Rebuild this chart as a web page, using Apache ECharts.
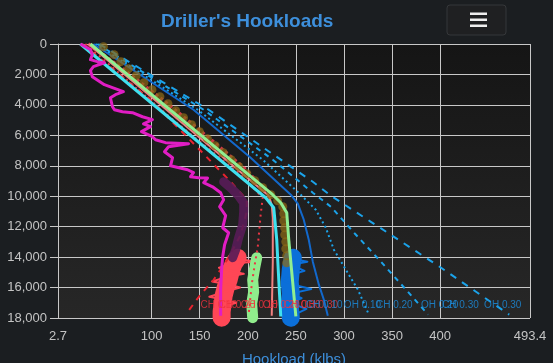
<!DOCTYPE html>
<html><head><meta charset="utf-8">
<script src="https://cdn.jsdelivr.net/npm/echarts@6/dist/echarts.min.js"></script>
<style>html,body{margin:0;padding:0;background:#1b1e21;overflow:hidden;}#c{width:553px;height:380px;}</style>
</head><body><div id="c"></div>
<script>
// ---- axis ticks ----
const xTicks = [2.7, 100, 150, 200, 250, 300, 350, 400, 493.4];
const depthMin = 0, depthMax = 18000, depthStep = 2000;

// ---- series: [hookload klbs, depth ft] ----
const hookloadActual = [[26,0],[36.4,370],[38.4,700],[36.4,1030],[43.6,1160],[50.9,1230],[39.5,1490],[36.4,1750],[38.4,2150],[44.7,2410],[50.9,2670],[59.3,2870],[70.7,3130],[62.4,3330],[57.2,3530],[59.3,4120],[61.4,4320],[69.7,4450],[80.1,4510],[90.5,4780],[100.9,4970],[91.6,5240],[98.9,5430],[89.5,5760],[100.9,6090],[104.1,6290],[114.5,6480],[138.4,6550],[117.6,6750],[113.4,7080],[121.8,7470],[119.7,8000],[137.4,8260],[143.6,8450],[140.5,8720],[148.9,8780],[158.2,8800],[154.1,9110],[163.4,9380],[171.8,9770],[174.9,10230],[170.7,10690],[177,11280],[173.9,12070],[180.1,12400],[175.9,13190],[173.9,13970],[172.8,14830],[171.8,16140],[171.8,17850]];
const slidingSO = [[174.9,9050],[182.2,9440],[189.5,9900],[195.7,10430],[195.7,11020],[194.7,11870],[190.5,12730],[187.4,13510],[184.3,14040]];
const rotatingPts = [[49.9,180],[61,700],[68,1160],[76,1620],[84,2080],[92,2540],[100.4,3000],[108.6,3460],[117,3920],[125,4380],[133.2,4840],[141.5,5300],[149.7,5760],[158,6220],[166,6680],[174.4,7140],[182.6,7600],[190.8,8060],[199,8520],[207.3,8980],[215.5,9440],[223.9,9900],[231.1,10300],[236.4,10690],[237.4,11150],[237.4,11610],[238.4,12070],[238.4,12530],[239.5,12990],[239.5,13450],[240.5,13910],[240.5,14370]];
const freeRotating = [[25.9,0],[218.6,10100],[227,10760],[230.1,12860],[232.2,15490],[234.3,17900]];
const rotModel = [[36.4,0],[225.9,9900],[234.3,10430],[240.5,11080],[242.6,12860],[244.7,14300],[250,17900]];
const soModelSolid = [[34.3,0],[221.8,9970],[224.9,10560],[226,11420],[226,14300],[224.9,17850]];
const puModelSolid = [[39.5,0],[143.6,4320],[203,7470],[244.7,9900],[252,10490],[258.2,11540],[263.4,12860],[267.6,14300],[273.9,15810],[279.1,16800],[283.2,17850]];
const puOH10 = [[41.6,0],[147.8,4320],[215.5,7600],[255.1,9900],[270.7,10890],[281.1,12070],[289.5,13510],[302,14830],[314.5,16140],[325.9,17780]];
const puOH20 = [[43.6,0],[154.1,4320],[226,7600],[267.6,9770],[286.4,10690],[312.4,12530],[338.4,14300],[364.5,16140],[387.4,17780]];
const puOH30 = [[45.7,0],[159.3,4320],[234.3,7600],[267.6,9050],[286.4,9970],[328,11680],[401,14700],[471.8,17780]];
const soOH30 = [[28,0],[98.9,3660],[147.8,6810],[182.2,9050],[198.9,10230],[198.9,11020],[192.6,12530],[180.1,14040],[164.5,15490],[150.9,16470],[135.3,17780]];
const soOH20 = [[31.1,0],[119.7,4840],[192.6,8590],[215.5,10100],[213.4,11210],[210.3,13380],[207.2,14500],[204.1,15810],[200.9,17780]];
const soMeasuredTop = [[34.3,0],[78,2040],[117.6,4000],[161.4,6290],[197.8,8260],[218.6,9700]];
const soMeasured = [[189.5,14040],[185.3,14430],[182.2,14960],[180.1,15490],[177,16010],[174.9,16540],[173.9,17060],[172.8,17590],[172.8,17980]];
const soSpikes = [[189,14100],[208,14300],[186,14400],[170,14700],[183,14900],[196,15100],[178,15300],[163,15600],[180,15800],[192,16000],[175,16300],[160,16600],[176,16800],[188,17000],[172,17300],[165,17600],[174,17900]];
const rotMeasured = [[209.3,14040],[207.2,14700],[205.1,15490],[206.1,16280],[204.1,17060],[205.1,17980]];
const puMeasured = [[246.8,14040],[244.7,14830],[243.6,15620],[244.7,16410],[243.6,17190],[244.7,17980]];
const puSpikes = [[246,14100],[262,14300],[245,14500],[259,14900],[244,15200],[236,15500],[246,15800],[266,16100],[245,16400],[256,16700],[243,17000],[261,17400],[245,17900]];

// ---- friction-factor labels ----
const labelDepth = 17130;
const soLabelNames = ['CH 0.10','CH 0.20','OH 0.10','OH 0.20','CH 0.30','OH 0.30'];
const soLabelLoads = [150.9,169.7,192.6,215.5,237.4,255.1];
const puLabelNames = ['CH 0.10','OH 0.10','CH 0.20','OH 0.20','CH 0.30','OH 0.30'];
const puLabelLoads = [260.3,299.9,333.2,380.1,402,445.7];

const FONT = 'Liberation Sans, Arial, sans-serif';
const GRID = '#c8c8c8';

function line(name, data, color, width, type, z, cap) {
  return {
    name, type: 'line', data, z, showSymbol: false, symbol: 'none', silent: true,
    lineStyle: { color, width, type: type || 'solid', cap: cap || 'butt', join: 'round' }
  };
}
function labels(names, loads, color) {
  return {
    type: 'scatter', z: 20, symbolSize: 0, silent: true,
    data: names.map((n, i) => ({ value: [loads[i], labelDepth], name: n })),
    label: { show: true, position: 'right', distance: 0, formatter: p => p.name,
      color, fontSize: 10, fontFamily: FONT }
  };
}

const chart = echarts.init(document.getElementById('c'), null, { renderer: 'canvas' });
chart.setOption({
  animation: false,
  backgroundColor: '#1b1e21',
  title: {
    text: "Driller's Hookloads", left: 161, top: 12, padding: 0,
    textStyle: { color: '#3d8fdb', fontSize: 19, fontWeight: 'bold', fontFamily: FONT }
  },
  graphic: [
    { type: 'rect', shape: { x: 447, y: 5, width: 59, height: 30, r: 3 },
      style: { fill: '#1f2022', stroke: '#35373a', lineWidth: 1 } },
    { type: 'rect', shape: { x: 470, y: 12.5, width: 17, height: 2.5 }, style: { fill: '#eeeeee' } },
    { type: 'rect', shape: { x: 470, y: 18.5, width: 17, height: 2.5 }, style: { fill: '#eeeeee' } },
    { type: 'rect', shape: { x: 470, y: 24.5, width: 17, height: 2.5 }, style: { fill: '#eeeeee' } }
  ],
  grid: {
    left: 58, width: 472, top: 44, height: 274, show: true, borderWidth: 0,
    backgroundColor: { type: 'linear', x: 0, y: 0, x2: 0, y2: 1,
      colorStops: [{ offset: 0, color: '#151515' }, { offset: 1, color: '#272727' }] }
  },
  xAxis: {
    type: 'value', min: xTicks[0], max: xTicks[xTicks.length - 1],
    axisLine: { show: true, lineStyle: { color: GRID } },
    axisTick: { show: true, length: 4, customValues: xTicks, lineStyle: { color: GRID } },
    axisLabel: { customValues: xTicks, color: '#c4c4c4', fontSize: 13, margin: 12, fontFamily: FONT,
      formatter: v => String(v) },
    splitLine: { show: true, lineStyle: { color: GRID, width: 1 } },
    name: 'Hookload (klbs)', nameLocation: 'middle', nameGap: 34,
    nameTextStyle: { color: '#3d8fdb', fontSize: 15, fontFamily: FONT }
  },
  yAxis: {
    type: 'value', inverse: true, min: depthMin, max: depthMax, interval: depthStep,
    axisLine: { show: true, lineStyle: { color: GRID } },
    axisTick: { show: true, length: 8, lineStyle: { color: GRID } },
    axisLabel: { color: '#c4c4c4', fontSize: 13, margin: 11, fontFamily: FONT,
      formatter: v => v.toLocaleString('en-US') },
    splitLine: { show: true, lineStyle: { color: GRID, width: 1 } }
  },
  series: [
    line('PU measured', puMeasured, '#0b6fd9', 18, 'solid', 2, 'round'),
    line('PU spikes', puSpikes, '#0b6fd9', 2, 'solid', 2),
    line('SO measured', soMeasured, '#ff4756', 18, 'solid', 2, 'round'),
    line('SO spikes', soSpikes, '#ff4756', 2, 'solid', 2),
    line('ROT measured', rotMeasured, '#90ec8c', 11, 'solid', 2, 'round'),
    line('SO measured top', soMeasuredTop, 'rgba(255,64,80,0.8)', 4, [3, 3], 3),
    line('PU OH 0.10', puOH10, '#1ba3ea', 2, [2, 3], 4),
    line('PU OH 0.20', puOH20, '#1ba3ea', 2, [5, 5], 4),
    line('PU OH 0.30', puOH30, '#1ba3ea', 2, [7, 7], 4),
    line('PU CH', puModelSolid, '#1268cc', 2, 'solid', 4),
    line('SO OH 0.30', soOH30, '#e8232f', 2, [6, 6], 4),
    line('SO OH 0.20', soOH20, '#ea3644', 2, [2, 4], 4),
    line('SO CH', soModelSolid, '#f08080', 2, 'solid', 4),
    line('Sliding', slidingSO, 'rgba(88,28,88,0.9)', 9, 'solid', 5, 'round'),
    { name: 'Rotating', type: 'scatter', z: 6, symbolSize: 9, silent: true, data: rotatingPts,
      itemStyle: { color: 'rgba(139,105,22,0.9)' } },
    line('Free rotating', freeRotating, '#3fe0ee', 3, 'solid', 7),
    line('ROT model', rotModel, '#90ee90', 3, 'solid', 7),
    line('Hookload', hookloadActual, '#e11dc4', 3, 'solid', 8),
    labels(soLabelNames, soLabelLoads, '#f0323e'),
    labels(puLabelNames, puLabelLoads, '#1b8fe0')
  ]
});
</script></body></html>
